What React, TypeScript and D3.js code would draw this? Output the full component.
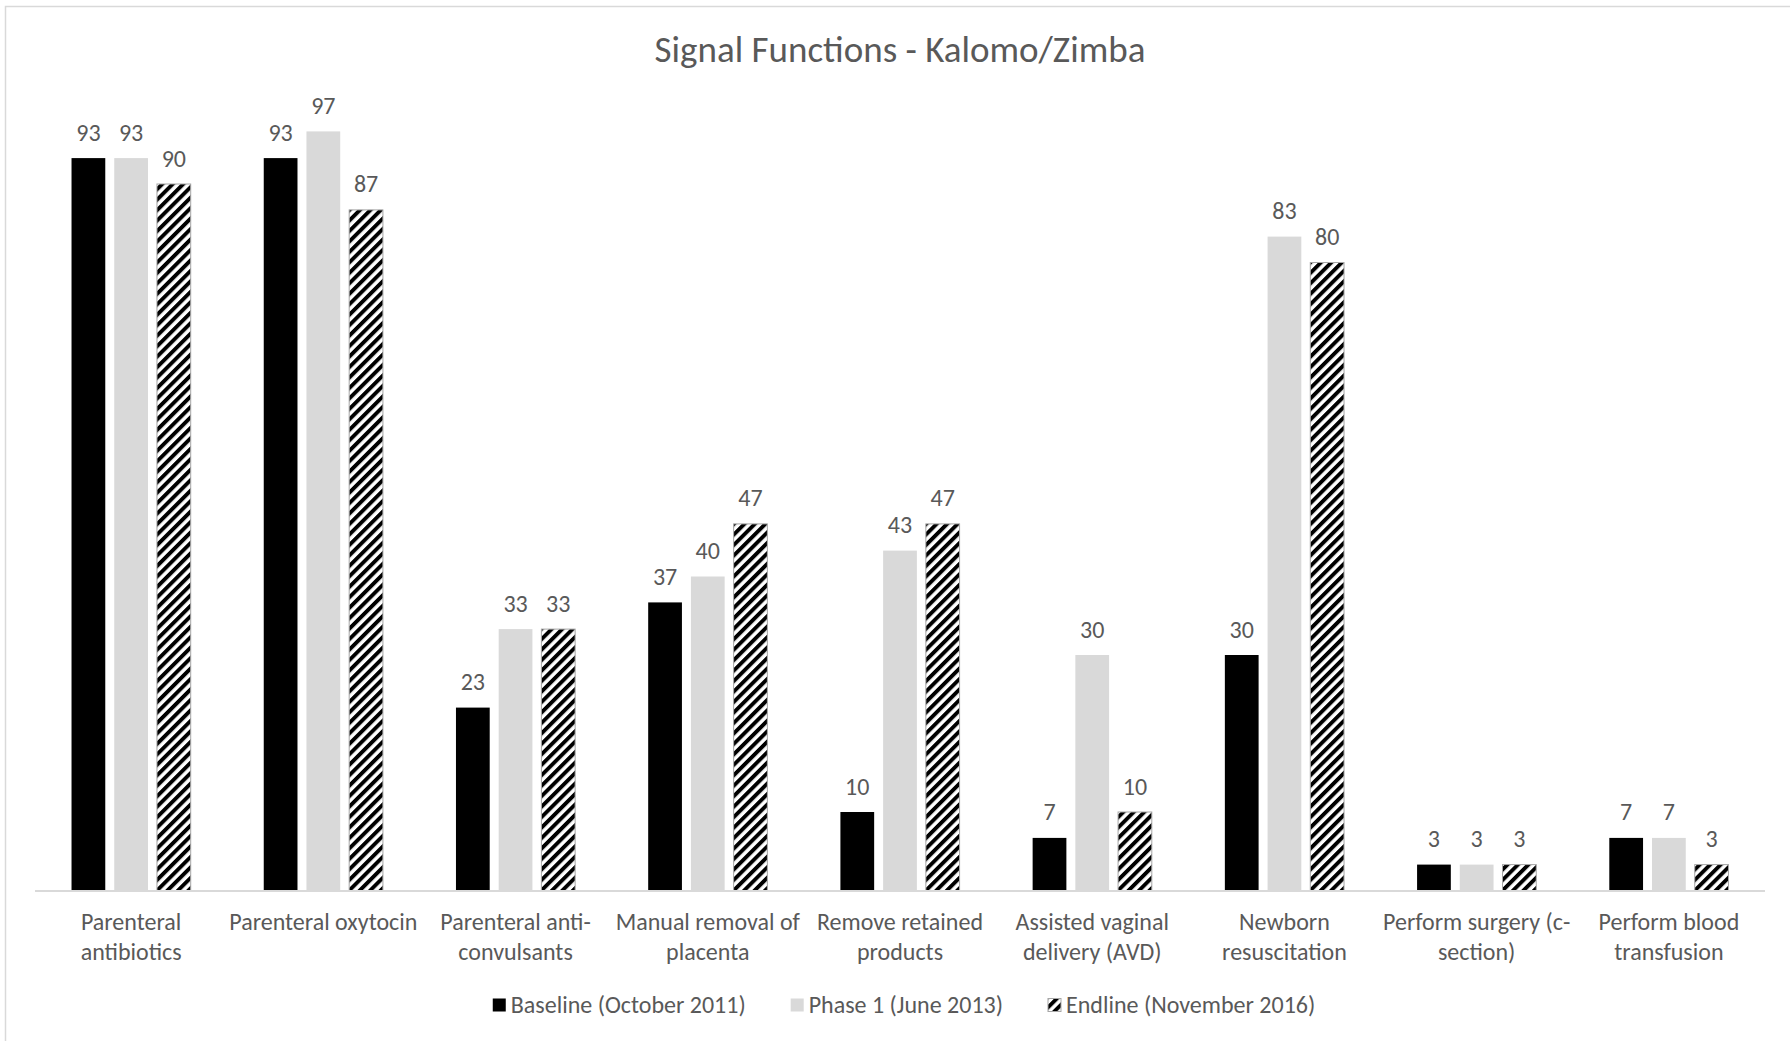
import React, { useEffect, useRef } from "react";
import * as d3 from "d3";

// values (share of facilities, %)
const categories = [
  ["Parenteral", "antibiotics"],
  ["Parenteral oxytocin"],
  ["Parenteral anti-", "convulsants"],
  ["Manual removal of", "placenta"],
  ["Remove retained", "products"],
  ["Assisted vaginal", "delivery (AVD)"],
  ["Newborn", "resuscitation"],
  ["Perform surgery (c-", "section)"],
  ["Perform blood", "transfusion"],
];
const seriesNames = ["Baseline (October 2011)", "Phase 1 (June 2013)", "Endline (November 2016)"];
const baseline = [93.3, 93.3, 23.3, 36.7, 10, 6.7, 30, 3.3, 6.7];
const phase1 = [93.3, 96.7, 33.3, 40, 43.3, 30, 83.3, 3.3, 6.7];
const endline = [90, 86.7, 33.3, 46.7, 46.7, 10, 80, 3.3, 3.3];

const W = 1790;
const H = 1041;
const FONT = "Calibri, Carlito, 'Open Sans', sans-serif";
const TEXT = "#595959";

export default function App() {
  const ref = useRef<SVGSVGElement>(null);

  useEffect(() => {
    document.body.style.margin = "0";
    const svg = d3.select(ref.current);
    svg.selectAll("*").remove();

    const defs = svg.append("defs");
    const pat = defs
      .append("pattern")
      .attr("id", "hatch")
      .attr("patternUnits", "userSpaceOnUse")
      .attr("width", 7.4)
      .attr("height", 7.4)
      .attr("patternTransform", "rotate(45)");
    pat.append("rect").attr("width", 7.4).attr("height", 7.4).attr("fill", "#fff");
    pat.append("rect").attr("width", 3.9).attr("height", 7.4).attr("fill", "#000");

    // outer border (top and left visible)
    svg
      .append("rect")
      .attr("x", 5.5)
      .attr("y", 6.5)
      .attr("width", W + 10)
      .attr("height", H + 10)
      .attr("fill", "#fff")
      .attr("stroke", "#d9d9d9")
      .attr("stroke-width", 1.5);

    const margin = { left: 35, right: W - 1765, top: 105.5, bottom: H - 890.5 };
    const x0 = d3
      .scaleBand<number>()
      .domain(d3.range(categories.length))
      .range([margin.left, W - margin.right])
      .paddingInner(0.38)
      .paddingOuter(0.19);
    const x1 = d3
      .scaleBand<number>()
      .domain([0, 1, 2])
      .range([0, x0.bandwidth()])
      .paddingInner(0.21);
    const y = d3.scaleLinear().domain([0, 100]).range([H - margin.bottom, margin.top]);

    const fills = ["#000000", "#d9d9d9", "url(#hatch)"];
    const series = [baseline, phase1, endline];

    svg
      .append("text")
      .attr("x", (margin.left + W - margin.right) / 2)
      .attr("y", 62)
      .attr("text-anchor", "middle")
      .attr("font-family", FONT)
      .attr("font-size", 37)
      .attr("fill", TEXT)
      .text("Signal Functions - Kalomo/Zimba");

    const groups = svg
      .selectAll("g.cat")
      .data(categories)
      .enter()
      .append("g")
      .attr("class", "cat")
      .attr("transform", (d, i) => "translate(" + x0(i) + ",0)");

    series.forEach((vals, s) => {
      groups
        .append("rect")
        .attr("x", x1(s)!)
        .attr("y", (d, i) => y(vals[i]))
        .attr("width", x1.bandwidth())
        .attr("height", (d, i) => y(0) - y(vals[i]))
        .attr("fill", fills[s])
        .attr("stroke", s === 2 ? "#a6a6a6" : "none")
        .attr("stroke-width", 1);
      groups
        .append("text")
        .attr("x", x1(s)! + x1.bandwidth() / 2)
        .attr("y", (d, i) => y(vals[i]) - 17.5)
        .attr("text-anchor", "middle")
        .attr("font-family", FONT)
        .attr("font-size", 24)
        .attr("fill", TEXT)
        .text((d, i) => Math.round(vals[i]));
    });

    // category axis
    svg
      .append("line")
      .attr("x1", margin.left)
      .attr("x2", W - margin.right)
      .attr("y1", y(0) + 0.5)
      .attr("y2", y(0) + 0.5)
      .attr("stroke", "#d9d9d9")
      .attr("stroke-width", 2);

    groups.each(function (lines) {
      const t = d3
        .select(this)
        .append("text")
        .attr("text-anchor", "middle")
        .attr("font-family", FONT)
        .attr("font-size", 24)
        .attr("fill", TEXT);
      lines.forEach((ln, k) => {
        t.append("tspan")
          .attr("x", x0.bandwidth() / 2)
          .attr("y", 929.5 + k * 30)
          .text(ln);
      });
    });

    // legend
    const leg = svg.append("g");
    let cx = 0;
    seriesNames.forEach((name, s) => {
      const g = leg.append("g").attr("transform", "translate(" + cx + ",0)");
      g.append("rect")
        .attr("x", 0)
        .attr("y", 998.5)
        .attr("width", 13)
        .attr("height", 13)
        .attr("fill", fills[s])
        .attr("stroke", s === 2 ? "#a6a6a6" : "none");
      const t = g
        .append("text")
        .attr("x", 18)
        .attr("y", 1013)
        .attr("font-family", FONT)
        .attr("font-size", 24)
        .attr("fill", TEXT)
        .text(name);
      const len = (t.node() as SVGTextElement).getComputedTextLength();
      cx += 18 + len + (s < 2 ? 45 : 0);
    });
    leg.attr("transform", "translate(" + (904 - cx / 2) + ",0)");
  }, []);

  return <svg ref={ref} width={W} height={H} style={{ display: "block" }} />;
}
